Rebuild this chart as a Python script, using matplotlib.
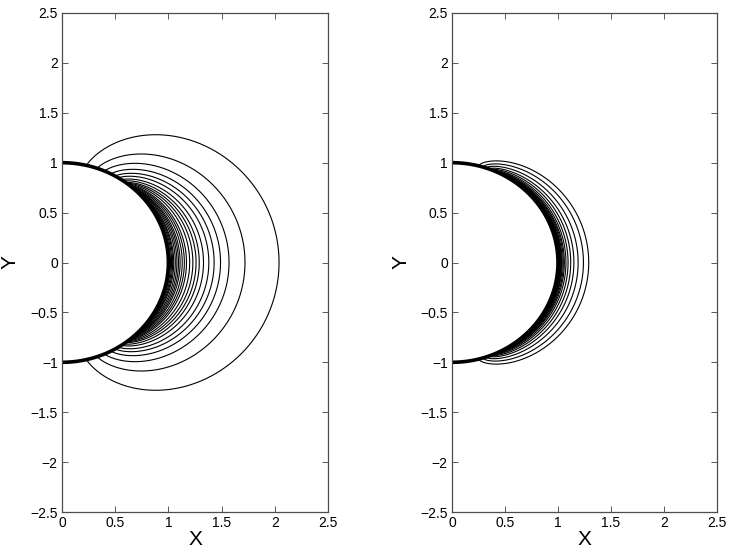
"""Contour bands around the unit semicircle, two cases side by side."""

import matplotlib
matplotlib.use("Agg")
import matplotlib.pyplot as plt
import numpy as np

plt.rcParams["font.family"] = ["Liberation Sans", "DejaVu Sans"]

# rightmost x of each contour (on y = 0)
left_right_x = [2.04, 1.72, 1.57, 1.49, 1.43, 1.38, 1.33, 1.29, 1.26, 1.23,
                1.20, 1.17, 1.15, 1.13, 1.11, 1.095, 1.08, 1.065, 1.05,
                1.04, 1.03, 1.02, 1.01]
# x where each contour meets the thick circle
left_end_x = [0.23, 0.33, 0.40, 0.46, 0.50, 0.53, 0.56, 0.58, 0.60, 0.61,
              0.62, 0.63, 0.64, 0.65, 0.66, 0.66, 0.67, 0.67, 0.68,
              0.68, 0.69, 0.69, 0.70]

right_right_x = [1.29, 1.24, 1.19, 1.15, 1.12, 1.095, 1.075, 1.06, 1.05,
                 1.04, 1.033, 1.027, 1.022, 1.018, 1.014, 1.011, 1.008,
                 1.006, 1.004, 1.002]
right_end_x = [0.25, 0.29, 0.32, 0.35, 0.37, 0.39, 0.40, 0.41, 0.42, 0.43,
               0.44, 0.45, 0.46, 0.47, 0.48, 0.49, 0.50, 0.51, 0.52, 0.53]

ticks_x = [0, 0.5, 1, 1.5, 2, 2.5]
ticks_y = [-2.5, -2, -1.5, -1, -0.5, 0, 0.5, 1, 1.5, 2, 2.5]


def contour_curve(r_max, x_end, p):
    """Closed curve from the circle out to r_max on the x axis and back."""
    th0 = np.arccos(x_end)
    th = np.linspace(-th0, th0, 300)
    u = np.abs(th) / th0
    r = 1 + (r_max - 1) * (1 - u ** 2) ** p
    return r * np.cos(th), r * np.sin(th)


def draw_panel(ax, right_x, end_x, p):
    for rm, xe in zip(right_x, end_x):
        x, y = contour_curve(rm, xe, p)
        ax.plot(x, y, color="k", linewidth=0.8)
    th = np.linspace(-np.pi / 2, np.pi / 2, 400)
    ax.plot(np.cos(th), np.sin(th), color="k", linewidth=2.6)

    ax.set_xlim(0, 2.5)
    ax.set_ylim(-2.5, 2.5)
    ax.set_xticks(ticks_x)
    ax.set_xticklabels(["0", "0.5", "1", "1.5", "2", "2.5"])
    ax.set_yticks(ticks_y)
    ax.set_yticklabels([f"{t:g}".replace("-", "\u2212") for t in ticks_y])
    ax.tick_params(direction="in", length=4, width=0.6, labelsize=10,
                   top=True, right=True, pad=3, colors="0.25",
                   labelcolor="k")
    for sp in ax.spines.values():
        sp.set_linewidth(0.9)
        sp.set_color("0.3")
    ax.set_xlabel("X", fontsize=15, labelpad=0)
    ax.set_ylabel("Y", fontsize=15)
    ax.yaxis.set_label_coords(-0.158, 0.5)


fig = plt.figure(figsize=(7.34, 5.54), dpi=100)
ax1 = fig.add_axes([62 / 734, 1 - 512 / 554, 266 / 734, 499 / 554])
ax2 = fig.add_axes([452 / 734, 1 - 512 / 554, 265 / 734, 499 / 554])

draw_panel(ax1, left_right_x, left_end_x, 0.85)
draw_panel(ax2, right_right_x, right_end_x, 0.65)

fig.savefig("out.png", dpi=100)
